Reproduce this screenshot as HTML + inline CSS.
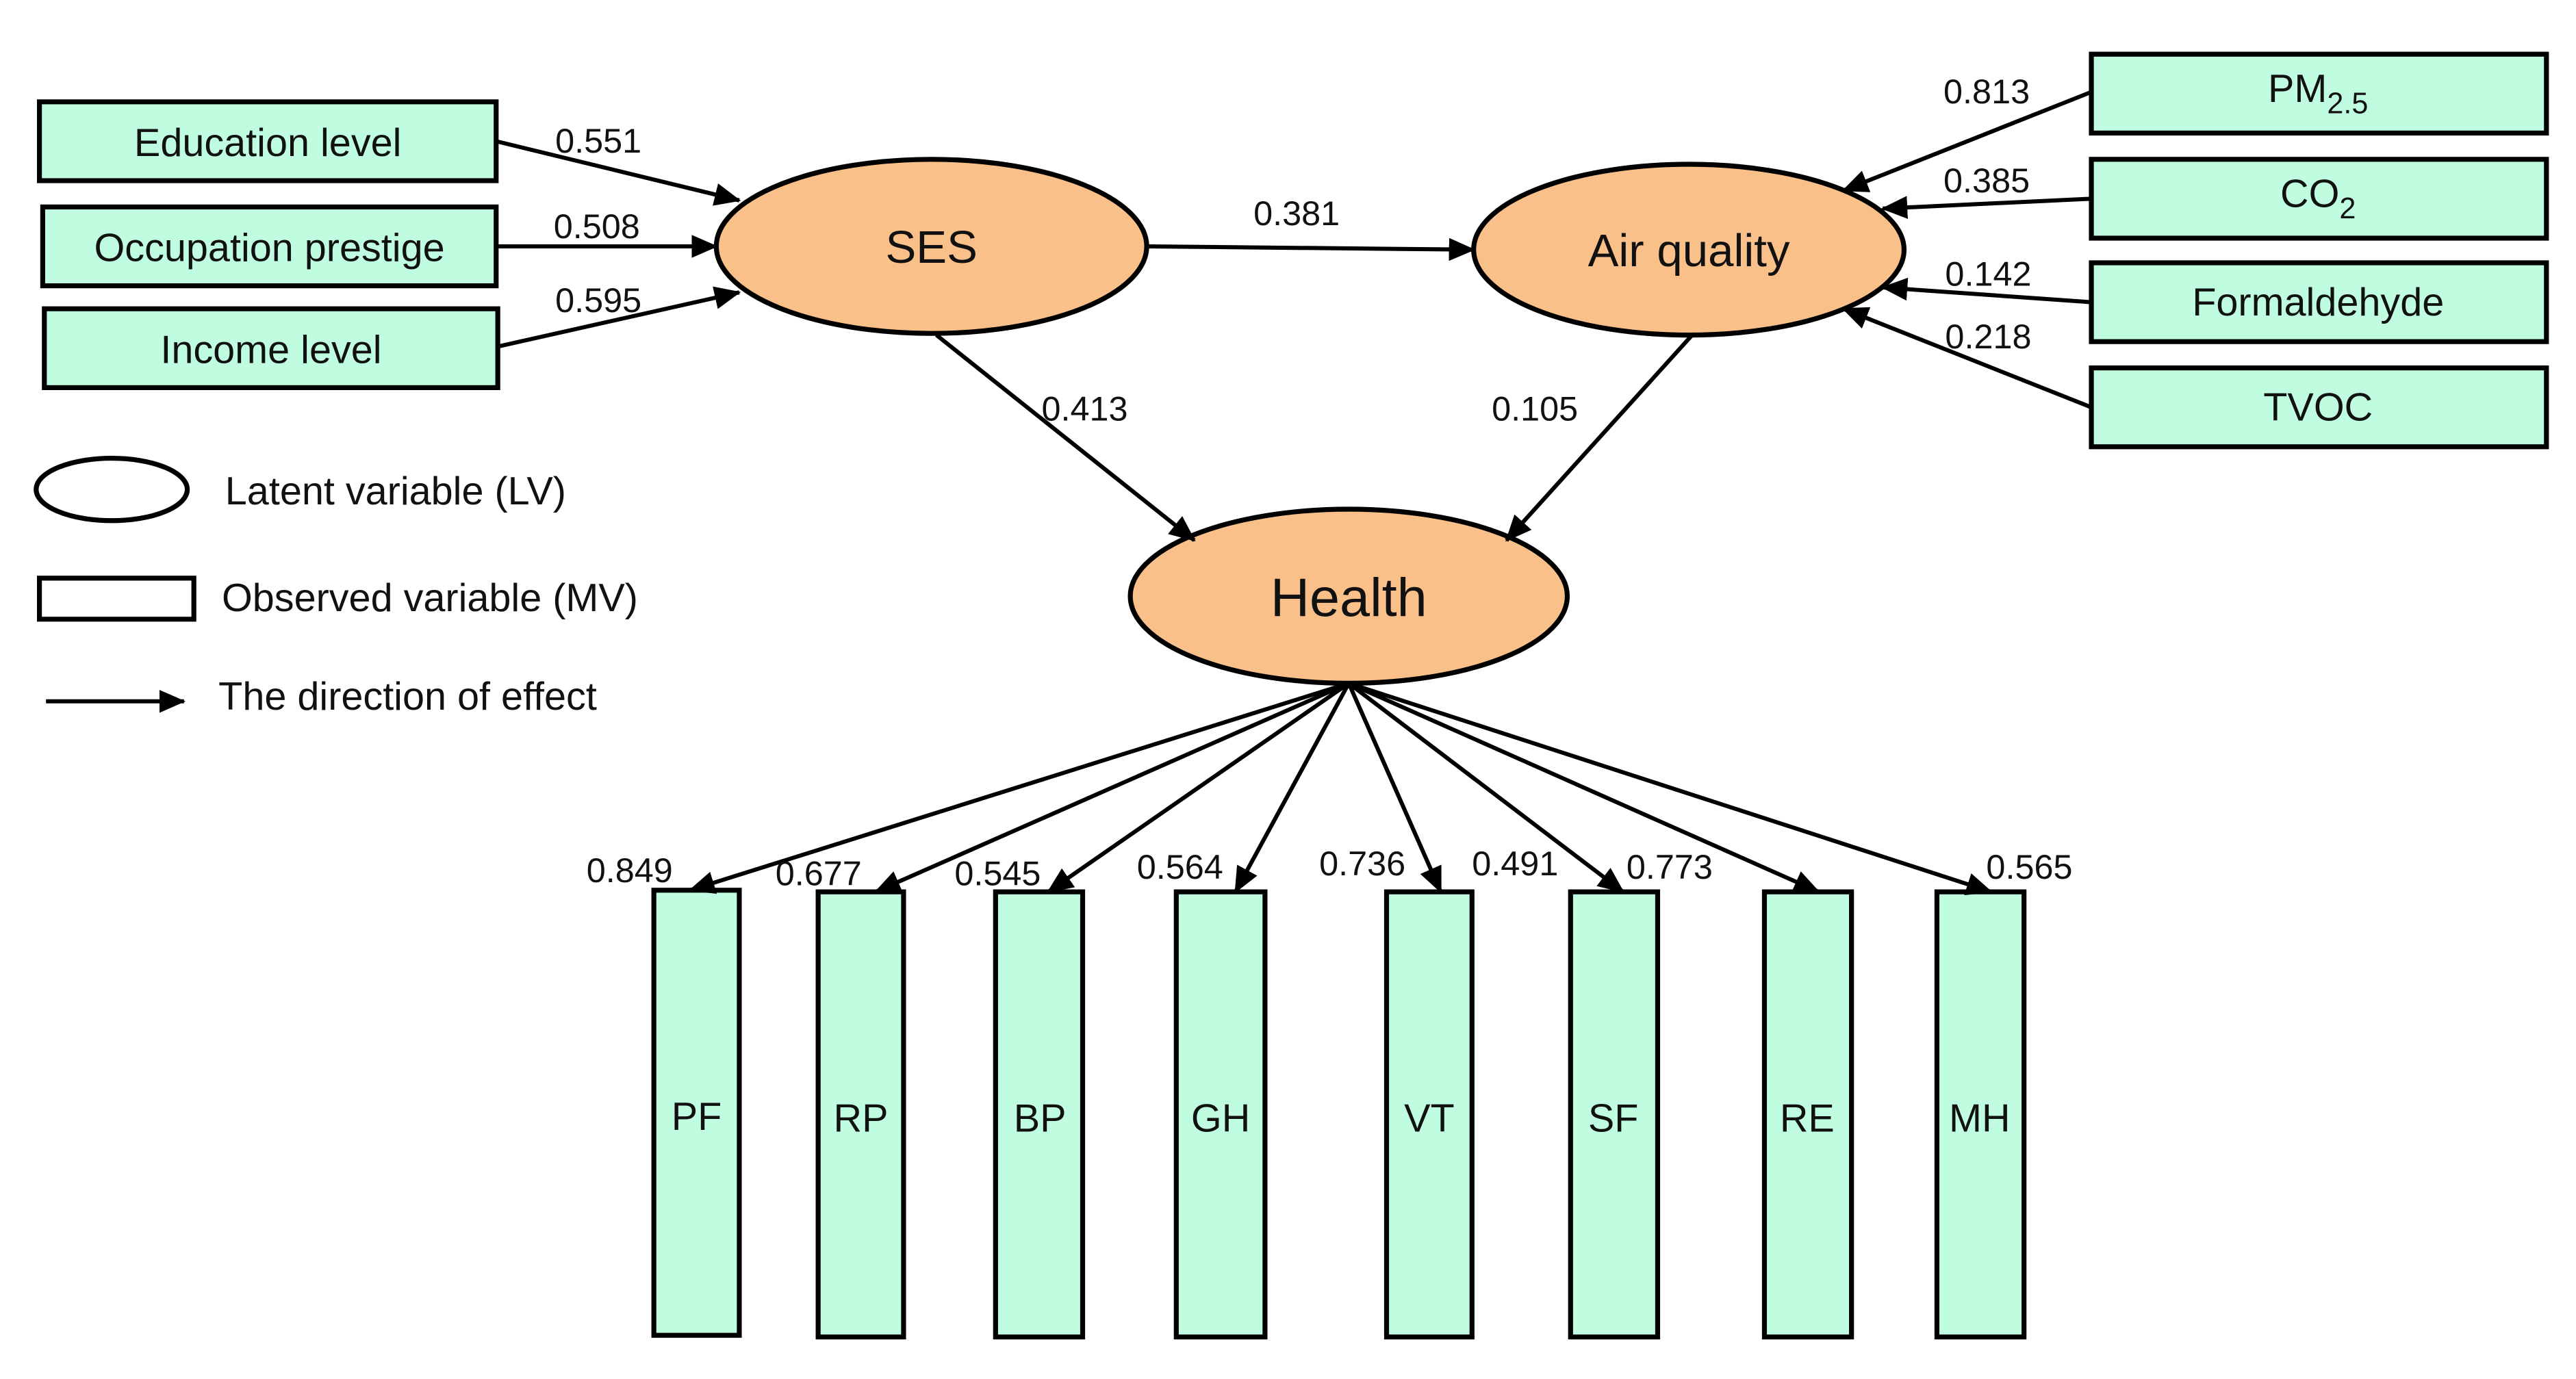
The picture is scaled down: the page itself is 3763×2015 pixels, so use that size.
<!DOCTYPE html>
<html><head><meta charset="utf-8"><style>html,body{margin:0;padding:0;background:#fff}svg{display:block}</style></head>
<body>
<svg width="3763" height="2015" viewBox="0 0 1568 839.6" preserveAspectRatio="none" xmlns="http://www.w3.org/2000/svg" font-family="'Liberation Sans', Arial, sans-serif">
<defs>
<marker id="a" markerWidth="10" markerHeight="10" refX="9" refY="5" orient="auto" markerUnits="userSpaceOnUse" viewBox="0 0 10 10">
<path d="M0,0 L10,5 L0,10 z" fill="#000"/>
</marker>
<marker id="b" markerWidth="16" markerHeight="14" refX="15" refY="7" orient="auto" markerUnits="userSpaceOnUse">
<path d="M0,0 L16,7 L0,14 z" fill="#000"/>
</marker>
</defs>
<g stroke="#000" stroke-width="3" fill="#c0fde0">
<rect x="24" y="62" width="278" height="48"/>
<rect x="26" y="126" width="276" height="48"/>
<rect x="27" y="188" width="276" height="48"/>
<rect x="1273" y="33" width="277" height="48"/>
<rect x="1273" y="97" width="277" height="48"/>
<rect x="1273" y="160" width="277" height="48"/>
<rect x="1273" y="224" width="277" height="48"/>
<rect x="398" y="542" width="52" height="271"/>
<rect x="498" y="543" width="52" height="271"/>
<rect x="606" y="543" width="53" height="271"/>
<rect x="716" y="543" width="54" height="271"/>
<rect x="844" y="543" width="52" height="271"/>
<rect x="956" y="543" width="53" height="271"/>
<rect x="1074" y="543" width="53" height="271"/>
<rect x="1179" y="543" width="53" height="271"/>
</g>
<g stroke="#000" stroke-width="3" fill="#f9c08a">
<ellipse cx="567" cy="150" rx="131" ry="53"/>
<ellipse cx="1028" cy="152" rx="131" ry="52"/>
<ellipse cx="821" cy="363" rx="133" ry="53"/>
</g>
<g stroke="#000" stroke-width="2.5" fill="none" marker-end="url(#b)">
<line x1="302" y1="86" x2="450" y2="122"/>
<line x1="302" y1="150" x2="436" y2="150"/>
<line x1="303" y1="211" x2="450" y2="178"/>
<line x1="698" y1="150" x2="897" y2="152"/>
<line x1="570" y1="204" x2="727" y2="329"/>
<line x1="1030" y1="204" x2="917" y2="329"/>
<line x1="1273" y1="56" x2="1122" y2="116"/>
<line x1="1273" y1="121" x2="1146" y2="127"/>
<line x1="1273" y1="184" x2="1146" y2="175"/>
<line x1="1273" y1="248" x2="1122" y2="188"/>
<line x1="821" y1="416" x2="420" y2="542"/>
<line x1="821" y1="416" x2="533" y2="543"/>
<line x1="821" y1="416" x2="638" y2="543"/>
<line x1="821" y1="416" x2="752" y2="543"/>
<line x1="821" y1="416" x2="877" y2="543"/>
<line x1="821" y1="416" x2="988" y2="543"/>
<line x1="821" y1="416" x2="1107" y2="543"/>
<line x1="821" y1="416" x2="1212" y2="543"/>
<line x1="28" y1="427" x2="112" y2="427"/>
</g>
<ellipse cx="68" cy="298" rx="46" ry="19" fill="#fff" stroke="#000" stroke-width="3"/>
<rect x="24" y="352" width="94" height="25" fill="#fff" stroke="#000" stroke-width="3"/>
<g font-size="24" fill="#111" text-anchor="middle">
<text x="163" y="95">Education level</text>
<text x="164" y="159">Occupation prestige</text>
<text x="165" y="221">Income level</text>
<text x="1411" y="62">PM<tspan font-size="18" dy="7">2.5</tspan></text>
<text x="1411" y="126">CO<tspan font-size="18" dy="7">2</tspan></text>
<text x="1411" y="192">Formaldehyde</text>
<text x="1411" y="256">TVOC</text>
<text x="424" y="688">PF</text>
<text x="524" y="689">RP</text>
<text x="633" y="689">BP</text>
<text x="743" y="689">GH</text>
<text x="870" y="689">VT</text>
<text x="982" y="689">SF</text>
<text x="1100" y="689">RE</text>
<text x="1205" y="689">MH</text>
<text x="567" y="160" font-size="28">SES</text>
<text x="1028" y="162" font-size="28">Air quality</text>
<text x="821" y="375" font-size="33">Health</text>
</g>
<g font-size="24" fill="#111">
<text x="137" y="307">Latent variable (LV)</text>
<text x="135" y="372">Observed variable (MV)</text>
<text x="133" y="432">The direction of effect</text>
</g>
<g font-size="21" fill="#111">
<text x="338" y="93">0.551</text>
<text x="337" y="145">0.508</text>
<text x="338" y="190">0.595</text>
<text x="763" y="137">0.381</text>
<text x="634" y="256">0.413</text>
<text x="908" y="256">0.105</text>
<text x="1183" y="63">0.813</text>
<text x="1183" y="117">0.385</text>
<text x="1184" y="174">0.142</text>
<text x="1184" y="212">0.218</text>
<text x="357" y="537">0.849</text>
<text x="472" y="539">0.677</text>
<text x="581" y="539">0.545</text>
<text x="692" y="535">0.564</text>
<text x="803" y="533">0.736</text>
<text x="896" y="533">0.491</text>
<text x="990" y="535">0.773</text>
<text x="1209" y="535">0.565</text>
</g>
</svg>
</body></html>
